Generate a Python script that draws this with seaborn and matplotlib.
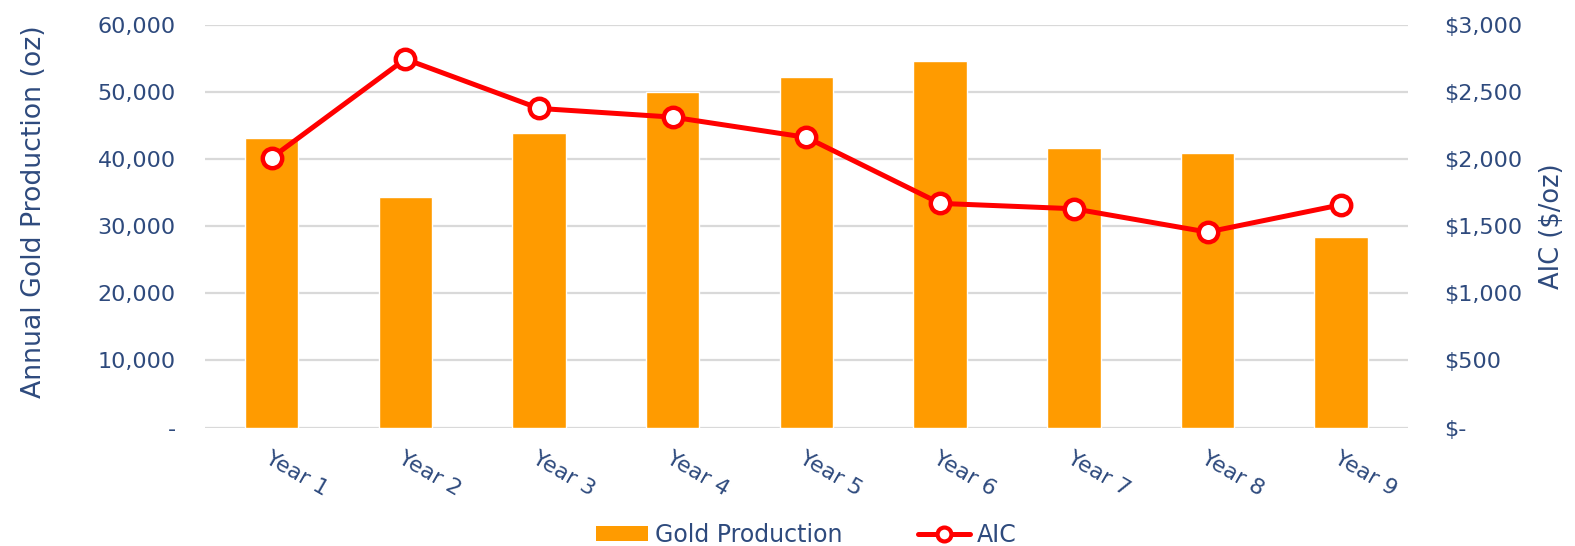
import matplotlib
matplotlib.use('Agg')
import matplotlib.pyplot as plt
import matplotlib.ticker as mticker
from matplotlib.lines import Line2D
from matplotlib.patches import Patch
import numpy as np
import pandas as pd
import seaborn as sns

years = ['Year 1', 'Year 2', 'Year 3', 'Year 4', 'Year 5', 'Year 6', 'Year 7', 'Year 8', 'Year 9']
gold_oz = [43200, 34300, 43950, 50000, 52250, 54600, 41700, 40900, 28350]
aic = [2011, 2747, 2379, 2314, 2163, 1671, 1631, 1457, 1661]

TEXT = '#2E4A7D'
BAR = '#FF9B00'
LINE = '#FF0000'
GRID = '#D9D9D9'

sns.set_style('white')
plt.rcParams['font.family'] = ['DejaVu Sans']

df = pd.DataFrame({'Year': years, 'Gold Production': gold_oz, 'AIC': aic})

fig = plt.figure(figsize=(15.75, 5.46), dpi=100)
ax = fig.add_axes([0.130, 0.217, 0.764, 0.737])

sns.barplot(data=df, x='Year', y='Gold Production', color=BAR, saturation=1,
            width=0.4, ax=ax, zorder=2)
ax.set_ylim(0, 60000)
ax.set_xlim(-0.5, len(years) - 0.5)
ax.yaxis.set_major_locator(mticker.MultipleLocator(10000))
ax.yaxis.set_major_formatter(mticker.FuncFormatter(
    lambda v, p: '-' if v == 0 else f'{v:,.0f}'))
ax.grid(axis='y', color=GRID, linewidth=1.6, zorder=0)
ax.set_axisbelow(True)
for s in ax.spines.values():
    s.set_visible(False)
ax.set_xlabel('')
ax.set_ylabel('Annual Gold Production (oz)', fontsize=19.3, color=TEXT)
ax.yaxis.set_label_coords(-0.131, 0.537)
ax.tick_params(axis='y', length=0, labelsize=16, labelcolor=TEXT, pad=21)
ax.tick_params(axis='x', length=0, labelsize=16, labelcolor=TEXT, pad=15)
for lab in ax.get_xticklabels():
    lab.set_rotation(-30)
    lab.set_ha('left')
    lab.set_rotation_mode('anchor')

ax2 = ax.twinx()
sns.lineplot(data=df, x='Year', y='AIC', sort=False, ax=ax2, color=LINE,
             linewidth=3.6, marker='o', markersize=14, markerfacecolor='white',
             markeredgecolor=LINE, markeredgewidth=3.2, zorder=3)
ax2.set_ylim(0, 3000)
ax2.yaxis.set_major_locator(mticker.MultipleLocator(500))
ax2.yaxis.set_major_formatter(mticker.FuncFormatter(
    lambda v, p: '$-' if v == 0 else f'${v:,.0f}'))
for s in ax2.spines.values():
    s.set_visible(False)
ax2.set_ylabel('AIC ($/oz)', fontsize=18.5, color=TEXT, labelpad=12)
ax2.tick_params(axis='y', length=0, labelsize=16, labelcolor=TEXT, pad=26)
ax2.set_xlabel('')

handles = [Patch(facecolor=BAR, edgecolor='none', label='Gold Production'),
           Line2D([], [], color=LINE, linewidth=3.6, marker='o', markersize=10,
                  markerfacecolor='white', markeredgecolor=LINE,
                  markeredgewidth=3, label='AIC')]
leg = fig.legend(handles=handles, loc='lower center', bbox_to_anchor=(0.512, -0.04),
                 ncol=2, frameon=False, fontsize=17, handlelength=2.2,
                 handleheight=0.6, columnspacing=3.2, handletextpad=0.3)
for t in leg.get_texts():
    t.set_color(TEXT)

fig.savefig('out.png', dpi=100)
